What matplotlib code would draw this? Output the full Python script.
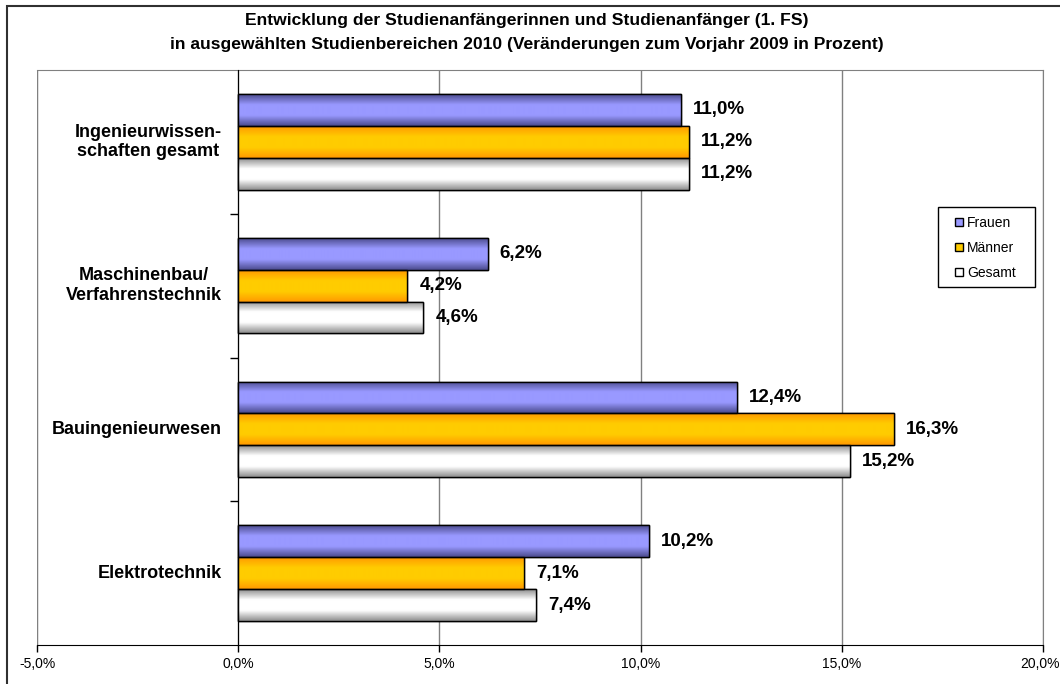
import matplotlib
matplotlib.use("Agg")
import matplotlib.pyplot as plt
import matplotlib.transforms as mtransforms
import numpy as np
from matplotlib.patches import Rectangle
from matplotlib.colors import LinearSegmentedColormap

plt.rcParams['font.family'] = ['Liberation Sans', 'DejaVu Sans']

categories = ["Ingenieurwissen-\nschaften gesamt", "Maschinenbau/\nVerfahrenstechnik",
              "Bauingenieurwesen", "Elektrotechnik"]
series = ["Frauen", "Männer", "Gesamt"]
frauen = [11.0, 6.2, 12.4, 10.2]
maenner = [11.2, 4.2, 16.3, 7.1]
gesamt = [11.2, 4.6, 15.2, 7.4]
xticks = [-5, 0, 5, 10, 15, 20]

values = [frauen, maenner, gesamt]
# gradient colours (edge, centre)
grads = [("#4a4a8c", "#9999ff"), ("#ff9900", "#ffcc00"), ("#8c8c8c", "#ffffff")]
solid = ["#9999ff", "#ffcc00", "#ffffff"]

W, H = 1060, 684
fig = plt.figure(figsize=(W/100, H/100), dpi=100)
ax = fig.add_axes([37/W, 1-645/H, (1043-37)/W, (645-70)/H])

bh = 0.222
y = np.arange(len(categories))
for i, (vals, (ec, cc)) in enumerate(zip(values, grads)):
    bars = ax.barh(y + (i-1)*bh, vals, height=bh, color=solid[i], edgecolor="#000000",
                   linewidth=1.0, zorder=3)
    cmap = LinearSegmentedColormap.from_list("g%d" % i, [ec, cc, cc, ec], N=256)
    grad = np.linspace(0, 1, 256).reshape(-1, 1)
    for b, v in zip(bars, vals):
        x0, y0 = b.get_x(), b.get_y()
        w, h = b.get_width(), b.get_height()
        im = ax.imshow(grad, extent=[x0, x0+w, y0+h, y0], aspect='auto', cmap=cmap,
                       zorder=3.5, interpolation='bilinear')
        im.set_clip_path(b)
        r = Rectangle((x0, y0), w, h, fill=False, edgecolor="#000000", linewidth=1.0, zorder=4)
        ax.add_patch(r)
        ax.text(v + 0.3, y0 + h/2, ("%.1f%%" % v).replace(".", ","), va='center', ha='left',
                fontsize=13.5, fontweight='bold', color='#000000', zorder=5)

ax.set_xlim(-5, 20)
ax.set_ylim(3.5, -0.5)
ax.set_xticks(xticks)
ax.set_xticklabels([("%.1f%%" % t).replace(".", ",") for t in xticks], fontsize=10)
ax.tick_params(axis='x', direction='out', length=5, width=1, pad=4, colors='#000000')
ax.xaxis.grid(True, color='#808080', linewidth=1.0, zorder=0)
ax.set_axisbelow(True)
# nudge the last tick label so it stays inside the canvas
lbl = ax.get_xticklabels()[-1]
lbl.set_transform(lbl.get_transform() + mtransforms.ScaledTranslation(-3/100, 0, fig.dpi_scale_trans))

ax.set_yticks([0.5, 1.5, 2.5])
ax.set_yticklabels([])
ax.tick_params(axis='y', direction='out', length=6, width=1, colors='#000000')
ax.spines['left'].set_position(('data', 0))
ax.spines['left'].set_color('#000000')
ax.spines['left'].set_zorder(6)
ax.spines['bottom'].set_color('#000000')
ax.spines['top'].set_color('#808080')
ax.spines['right'].set_color('#808080')
ax.axvline(-5, color='#808080', linewidth=1.5, zorder=1)

for yc, c in zip(y, categories):
    ax.text(-0.4, yc, c, ha='right', va='center', multialignment='center', fontsize=13,
            fontweight='bold', linespacing=1.2, zorder=5)

# legend (entries) and its box
leg = fig.legend([Rectangle((0, 0), 1, 1, facecolor=s, edgecolor='#000000') for s in solid],
                 series, loc='upper left', bbox_to_anchor=(955/W, 1-216/H),
                 bbox_transform=fig.transFigure,
                 fontsize=10, frameon=False,
                 handlelength=0.55, handleheight=0.55, handletextpad=0.3, borderpad=0,
                 labelspacing=0.8, borderaxespad=0)
fig.patches.append(Rectangle((938/W, 1-287/H), (1035-938)/W, 80/H, transform=fig.transFigure,
                             facecolor='white', edgecolor='#000000', linewidth=1.0, zorder=5))
leg.set_zorder(6)

fig.text(0.497, 1-20/H, "Entwicklung der Studienanfängerinnen und Studienanfänger (1. FS)",
         ha='center', va='center', fontsize=12.6, fontweight='bold')
fig.text(0.497, 1-44/H, "in ausgewählten Studienbereichen 2010 (Veränderungen zum Vorjahr 2009 in Prozent)",
         ha='center', va='center', fontsize=12.6, fontweight='bold')

fig.patches.append(Rectangle((7/W, -0.05), 1.1, 1-6/H+0.05, transform=fig.transFigure,
                             fill=False, edgecolor='#303030', linewidth=1.5))

fig.savefig("out.png", dpi=100)
